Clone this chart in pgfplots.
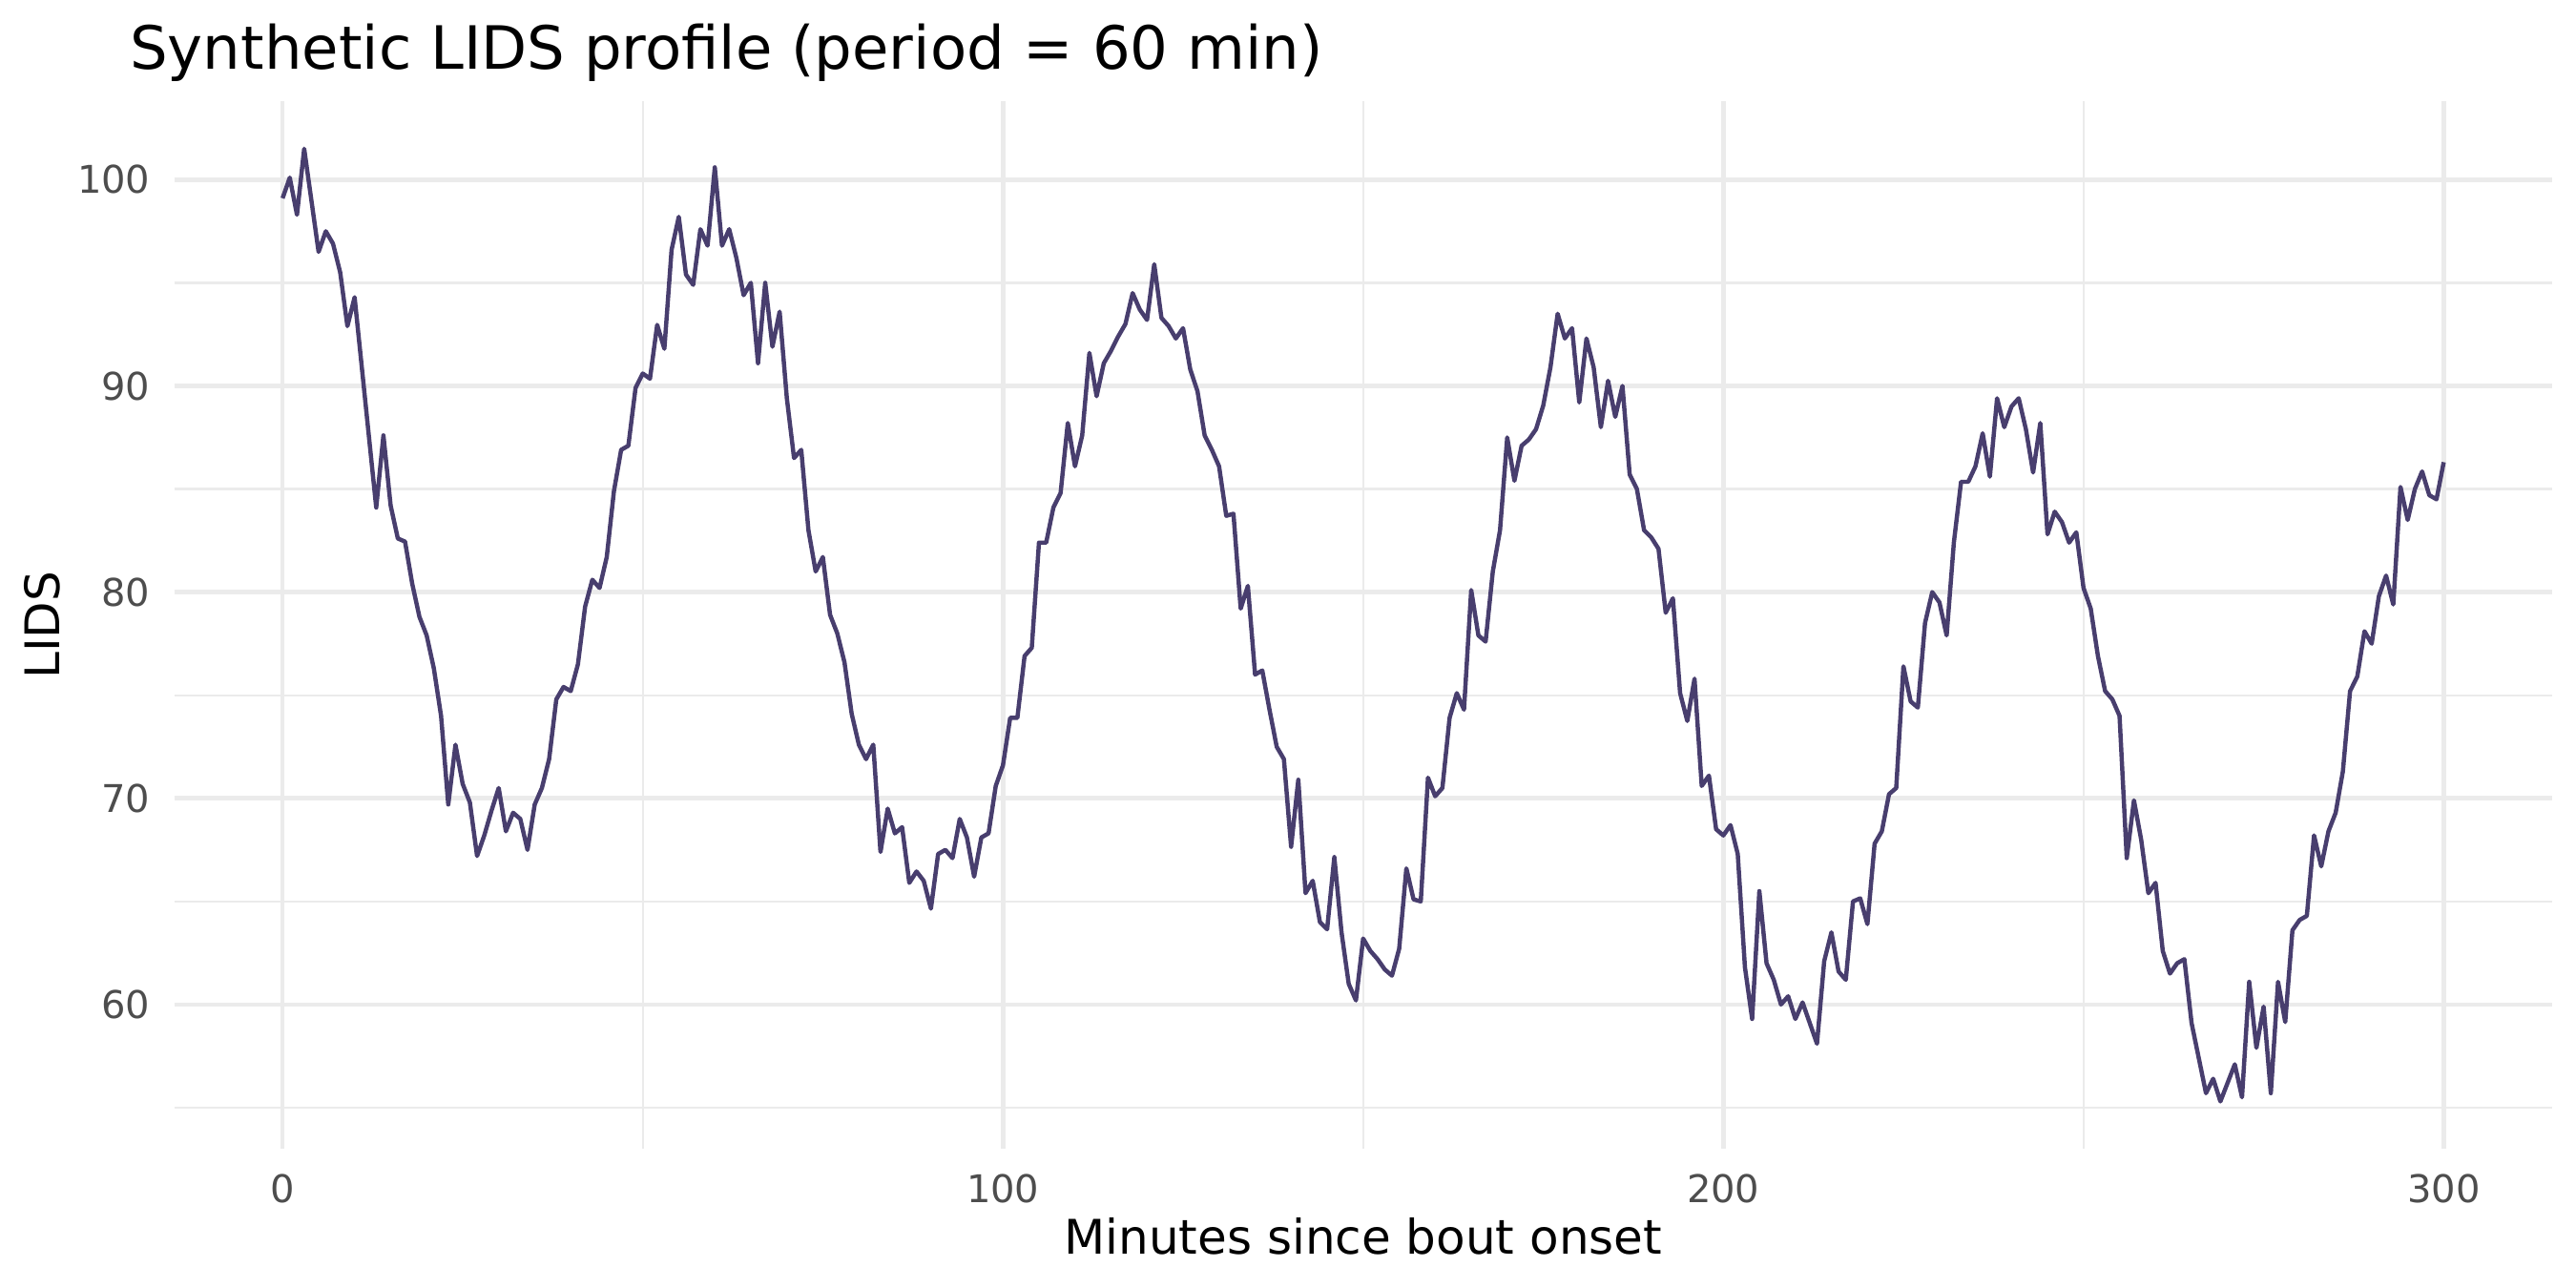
\documentclass[border=0pt]{standalone}
\usepackage{pgfplots}
\pgfplotsset{compat=1.18}
\usepackage{pgfplotstable}
\usepackage{fontspec}
\setmainfont{DejaVu Sans}
\definecolor{grid92}{HTML}{EBEBEB}
\definecolor{gray30}{HTML}{4D4D4D}
\definecolor{lidsline}{RGB}{72,62,110}
\pgfplotstableread{
m v
0 99.1
1 100.1
2 98.3
3 101.5
4 99.0
5 96.5
6 97.5
7 96.9
8 95.5
9 92.9
10 94.3
11 90.9
12 87.5
13 84.1
14 87.6
15 84.2
16 82.6
17 82.45
18 80.4
19 78.8
20 77.9
21 76.3
22 74.0
23 69.7
24 72.6
25 70.7
26 69.8
27 67.2
28 68.2
29 69.4
30 70.5
31 68.4
32 69.3
33 69.0
34 67.5
35 69.7
36 70.5
37 71.9
38 74.8
39 75.4
40 75.2
41 76.5
42 79.3
43 80.6
44 80.2
45 81.7
46 84.9
47 86.9
48 87.1
49 89.9
50 90.6
51 90.35
52 92.96
53 91.8
54 96.6
55 98.2
56 95.4
57 94.9
58 97.6
59 96.8
60 100.6
61 96.8
62 97.6
63 96.2
64 94.4
65 95.0
66 91.1
67 95.0
68 91.9
69 93.6
70 89.4
71 86.5
72 86.9
73 83.0
74 81.0
75 81.7
76 78.9
77 78.0
78 76.6
79 74.1
80 72.6
81 71.9
82 72.6
83 67.4
84 69.5
85 68.3
86 68.6
87 65.9
88 66.45
89 66.0
90 64.65
91 67.3
92 67.5
93 67.1
94 69.0
95 68.1
96 66.2
97 68.1
98 68.3
99 70.6
100 71.6
101 73.9
102 73.9
103 76.9
104 77.3
105 82.4
106 82.4
107 84.1
108 84.8
109 88.2
110 86.1
111 87.6
112 91.6
113 89.5
114 91.1
115 91.7
116 92.4
117 93.0
118 94.5
119 93.7
120 93.2
121 95.9
122 93.3
123 92.9
124 92.3
125 92.8
126 90.8
127 89.75
128 87.6
129 86.9
130 86.1
131 83.7
132 83.8
133 79.2
134 80.3
135 76.0
136 76.2
137 74.3
138 72.5
139 71.9
140 67.65
141 70.9
142 65.4
143 66.0
144 64.0
145 63.65
146 67.15
147 63.5
148 61.0
149 60.2
150 63.2
151 62.6
152 62.2
153 61.7
154 61.4
155 62.7
156 66.6
157 65.1
158 65.0
159 71.0
160 70.1
161 70.5
162 73.9
163 75.1
164 74.3
165 80.1
166 77.9
167 77.6
168 81.0
169 83.0
170 87.5
171 85.4
172 87.1
173 87.4
174 87.9
175 89.05
176 90.9
177 93.5
178 92.3
179 92.8
180 89.2
181 92.3
182 90.9
183 88.0
184 90.25
185 88.5
186 90.0
187 85.7
188 85.0
189 83.0
190 82.65
191 82.1
192 79.0
193 79.7
194 75.1
195 73.75
196 75.8
197 70.6
198 71.1
199 68.5
200 68.2
201 68.7
202 67.3
203 61.8
204 59.3
205 65.5
206 62.0
207 61.2
208 60.0
209 60.4
210 59.3
211 60.1
212 59.1
213 58.1
214 62.1
215 63.5
216 61.6
217 61.2
218 65.0
219 65.15
220 63.9
221 67.8
222 68.4
223 70.2
224 70.5
225 76.4
226 74.7
227 74.4
228 78.5
229 80.0
230 79.5
231 77.9
232 82.4
233 85.35
234 85.35
235 86.1
236 87.7
237 85.6
238 89.4
239 88.0
240 89.0
241 89.4
242 87.9
243 85.8
244 88.2
245 82.8
246 83.9
247 83.4
248 82.4
249 82.9
250 80.2
251 79.2
252 76.9
253 75.2
254 74.8
255 74.0
256 67.1
257 69.9
258 68.0
259 65.4
260 65.9
261 62.6
262 61.5
263 62.0
264 62.2
265 59.1
266 57.4
267 55.7
268 56.4
269 55.3
270 56.2
271 57.1
272 55.5
273 61.1
274 57.9
275 59.9
276 55.7
277 61.1
278 59.15
279 63.6
280 64.1
281 64.3
282 68.2
283 66.7
284 68.4
285 69.3
286 71.3
287 75.2
288 75.9
289 78.1
290 77.5
291 79.8
292 80.8
293 79.4
294 85.1
295 83.5
296 85.0
297 85.85
298 84.7
299 84.5
300 86.3
}\lidsdata
\begin{document}
\begin{tikzpicture}
\path[fill=white] (0,0) rectangle (648pt,324pt);
\begin{axis}[
  at={(43.9pt,35pt)}, anchor=south west,
  scale only axis, width=598pt, height=263.5pt,
  xmin=-15, xmax=315, ymin=53.0, ymax=103.8,
  axis line style={draw=none}, tick style={draw=none},
  xtick={0,100,200,300}, minor xtick={50,150,250},
  ytick={60,70,80,90,100}, minor ytick={55,65,75,85,95},
  grid=both,
  major grid style={color=grid92, line width=1.1pt},
  minor grid style={color=grid92, line width=0.55pt},
  /pgf/number format/assume math mode=true,
  ticklabel style={font=\fontsize{9.6}{11}\selectfont, text=gray30},
  xticklabel style={yshift=-2.8pt},
  yticklabel style={xshift=-2.6pt},
  clip=false,
]
\addplot[color=lidsline, line width=1.07pt, line join=round] table[x=m, y=v] {\lidsdata};
\end{axis}
\node[anchor=base west, inner sep=0pt, font=\fontsize{15}{18}\selectfont] at (32.5pt,306.7pt) {Synthetic LIDS profile (period = 60 min)};
\node[anchor=base, inner sep=0pt, font=\fontsize{12}{14}\selectfont] at (342.9pt,8.6pt) {Minutes since bout onset};
\node[rotate=90, inner sep=0pt, font=\fontsize{12}{14}\selectfont] at (10.75pt,166.7pt) {LIDS};
\end{tikzpicture}
\end{document}
